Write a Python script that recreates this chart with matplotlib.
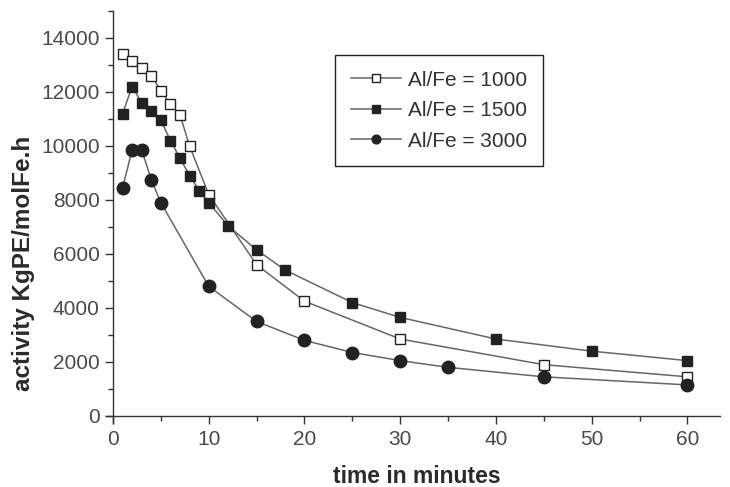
import matplotlib.pyplot as plt
from matplotlib.ticker import MultipleLocator

plt.rcParams['font.family'] = ['Liberation Sans', 'DejaVu Sans']

# time in minutes and activity values for each Al/Fe ratio
t_1000 = [1, 2, 3, 4, 5, 6, 7, 8, 10, 15, 20, 30, 45, 60]
a_1000 = [13400, 13150, 12900, 12600, 12050, 11550, 11150, 10000, 8200, 5600, 4250, 2850, 1900, 1450]

t_1500 = [1, 2, 3, 4, 5, 6, 7, 8, 9, 10, 12, 15, 18, 25, 30, 40, 50, 60]
a_1500 = [11200, 12200, 11600, 11300, 10950, 10200, 9550, 8900, 8350, 7900, 7050, 6150, 5400, 4200, 3650, 2850, 2400, 2050]

t_3000 = [1, 2, 3, 4, 5, 10, 15, 20, 25, 30, 35, 45, 60]
a_3000 = [8450, 9850, 9850, 8750, 7900, 4800, 3500, 2800, 2350, 2050, 1800, 1450, 1150]

labels = ['Al/Fe = 1000', 'Al/Fe = 1500', 'Al/Fe = 3000']

fig = plt.figure(figsize=(7.3, 4.87), dpi=100)
ax = fig.add_axes([0.1456, 0.132, 0.8407, 0.8455])

line_col = '#666666'
mk_col = '#222222'

ax.plot(t_1000, a_1000, color=line_col, lw=1.1, marker='s', ms=7.5,
        mfc='white', mec=mk_col, mew=1.0, label=labels[0])
ax.plot(t_1500, a_1500, color=line_col, lw=1.1, marker='s', ms=7.5,
        mfc=mk_col, mec=mk_col, label=labels[1])
ax.plot(t_3000, a_3000, color=line_col, lw=1.1, marker='o', ms=9,
        mfc=mk_col, mec=mk_col, label=labels[2])

ax.set_xlim(-0.7, 63.4)
ax.set_ylim(-250, 15000)

for s in ['top', 'right']:
    ax.spines[s].set_visible(False)
ax.spines['left'].set_position(('data', 0))
ax.spines['bottom'].set_position(('data', 0))
for s in ['left', 'bottom']:
    ax.spines[s].set_color('#333333')
    ax.spines[s].set_linewidth(1.0)

ax.xaxis.set_major_locator(MultipleLocator(10))
ax.xaxis.set_minor_locator(MultipleLocator(5))
ax.yaxis.set_major_locator(MultipleLocator(2000))
ax.yaxis.set_minor_locator(MultipleLocator(1000))
ax.tick_params(which='major', direction='out', length=6, width=1,
               color='#333333', labelsize=15, labelcolor='#4a4a4a')
ax.tick_params(axis='x', which='major', pad=4)
ax.tick_params(which='minor', direction='out', length=3.5, width=1, color='#333333')

ax.set_xlabel('time in minutes', fontsize=16.5, fontweight='bold', color='#2a2a2a')
ax.set_ylabel('activity KgPE/molFe.h', fontsize=17.5, fontweight='bold', color='#2a2a2a')
ax.xaxis.set_label_coords(0.506, -0.102)
ax.yaxis.set_label_coords(-0.116, 0.387)

leg = ax.legend(loc='upper left', bbox_to_anchor=(335 / 730, 1 - 55 / 487),
                bbox_transform=fig.transFigure, fontsize=15, markerscale=0.7,
                handlelength=2.4, handletextpad=0.35, fancybox=False, framealpha=1,
                edgecolor='#222222', labelspacing=0.55, borderpad=0.75,
                borderaxespad=0)
leg.get_frame().set_linewidth(1.0)
for txt in leg.get_texts():
    txt.set_color('#333333')

fig.savefig('out.png', dpi=100)
